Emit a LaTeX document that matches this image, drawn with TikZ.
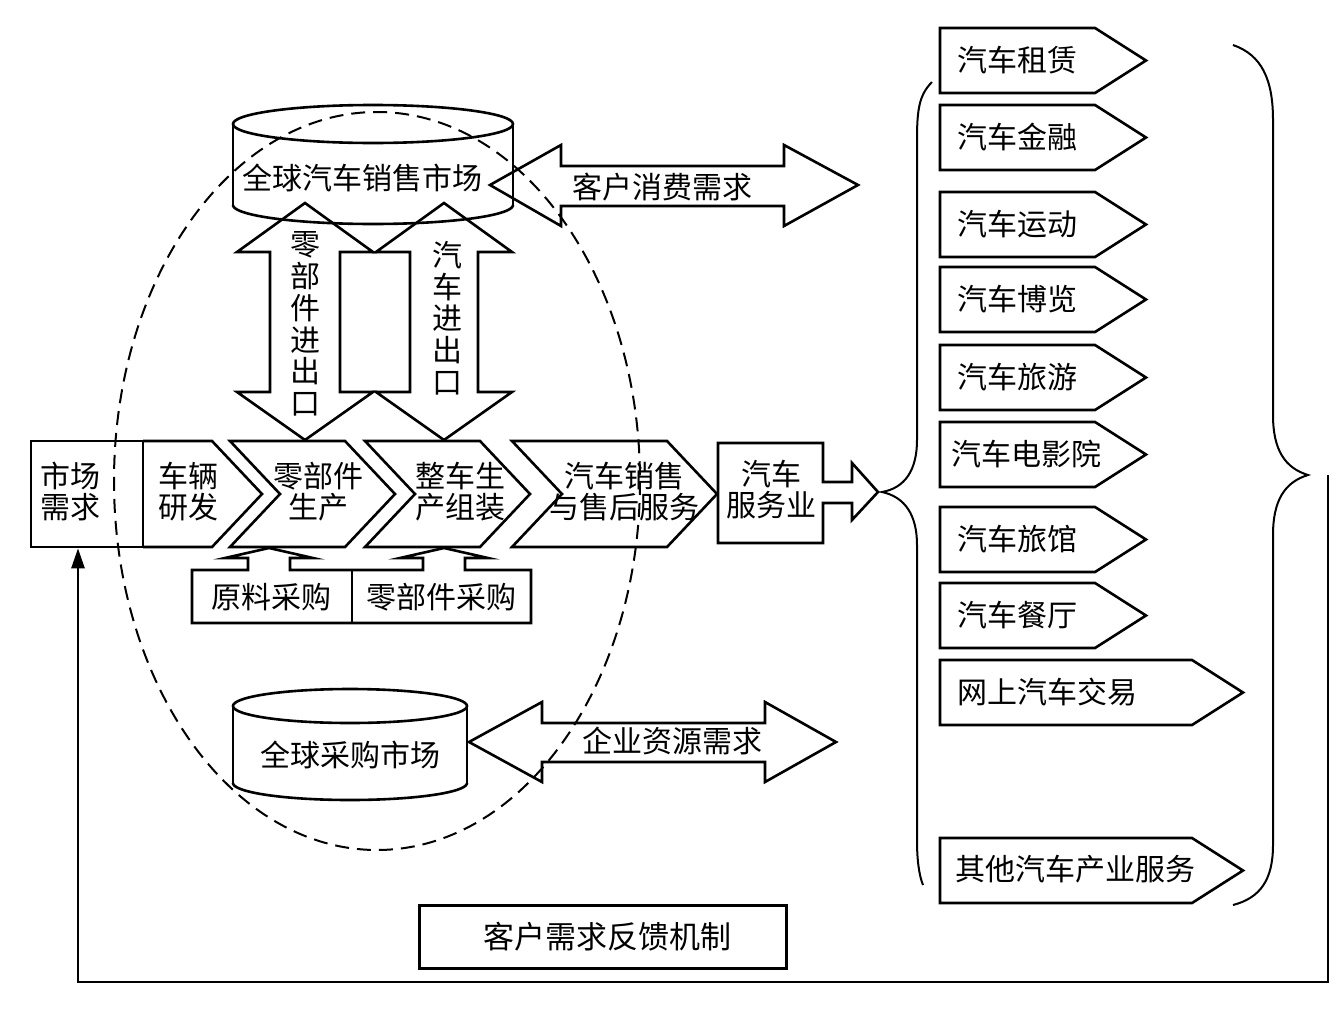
\documentclass[tikz,border=0pt]{standalone}
\usepackage{fontspec}
\setmainfont{Noto Sans CJK SC}
\usetikzlibrary{arrows.meta}
\begin{document}
\begin{tikzpicture}[x=1pt,y=-1pt,
  shp/.style={draw=black, line width=2.6pt, line join=miter},
  thin/.style={draw=black, line width=2pt},
  txt/.style={inner sep=0pt, font=\fontsize{30pt}{31pt}\selectfont, align=center},
  vtxt/.style={inner sep=0pt, font=\fontsize{30pt}{31.7pt}\selectfont, align=center},
  ltxt/.style={inner sep=0pt, font=\fontsize{30pt}{31pt}\selectfont, anchor=west}]
\useasboundingbox (0,0) rectangle (1341,1012);
\fill[white] (0,0) rectangle (1341,1012);

% dashed ellipse
\draw[line width=2pt, dash pattern=on 14pt off 8pt] (377,481) ellipse [x radius=263, y radius=369];

% top cylinder
\draw[shp] (373,124) ellipse [x radius=140, y radius=19];
\draw[shp] (233,124) -- (233,205);
\draw[shp] (513,124) -- (513,205);
\draw[shp] plot[domain=0:180, samples=60, smooth] ({373+140*cos(\x)}, {205+19*sin(\x)});
\node[txt] (gsm) at (362,178) {全球汽车销售市场};

% customer demand double arrow
\draw[shp] (490,185) -- (561,145) -- (561,166) -- (784,166) -- (784,145) -- (858,185) -- (784,226) -- (784,206) -- (561,206) -- (561,226) -- cycle;
\node[txt] (khxf) at (662,187) {客户消费需求};

% vertical double arrows
\draw[shp] (305,203) -- (373,252) -- (340,252) -- (340,392) -- (373,392) -- (305,440) -- (237,392) -- (270,392) -- (270,252) -- (237,252) -- cycle;
\draw[shp] (444,203) -- (512,252) -- (478,252) -- (478,392) -- (512,392) -- (444,440) -- (376,392) -- (410,392) -- (410,252) -- (376,252) -- cycle;
\node[vtxt] (ljjck) at (305,324) {零\\部\\件\\进\\出\\口};
\node[vtxt] (qcjck) at (447,318) {汽\\车\\进\\出\\口};

% main row
\node[shp, minimum width=112pt, minimum height=106pt, inner sep=0pt] (mkt) at (87,494) {};
\node[txt] (mkttxt) at (70,492) {市场\\需求};
\draw[shp] (143,441) -- (212,441) -- (262,494) -- (212,547) -- (143,547);
\node[txt] (yf) at (188,492) {车辆\\研发};
\draw[shp] (230,441) -- (345,441) -- (395,494) -- (345,547) -- (230,547) -- (280,494) -- cycle;
\node[txt] (ljsc) at (318,492) {零部件\\生产};
\draw[shp] (365,441) -- (480,441) -- (530,494) -- (480,547) -- (365,547) -- (415,494) -- cycle;
\node[txt] (zcsc) at (460,492) {整车生\\产组装};
\draw[shp] (512,441) -- (667,441) -- (717,494) -- (667,547) -- (512,547) -- (562,494) -- cycle;
\node[txt] (xsfw) at (624,492) {汽车销售\\与售后服务};
\draw[shp] (718,443) -- (823,443) -- (823,482) -- (852,482) -- (852,463) -- (878,492) -- (852,520) -- (852,503) -- (823,503) -- (823,543) -- (718,543) -- cycle;
\node[txt] (fwy) at (771,490) {汽车\\服务业};

% procurement boxes with up arrows
\draw[shp] (192,570) -- (248,570) -- (248,558) -- (225,558) -- (269,548) -- (313,558) -- (290,558) -- (290,570) -- (423,570) -- (423,558) -- (400,558) -- (444,548) -- (488,558) -- (465,558) -- (465,570) -- (531,570) -- (531,623) -- (192,623) -- cycle;
\draw[shp] (352,570) -- (352,623);
\node[txt] (ylcg) at (271,597) {原料采购};
\node[txt] (ljcg) at (441,597) {零部件采购};

% bottom cylinder
\draw[shp] (350,706) ellipse [x radius=117, y radius=17];
\draw[shp] (233,706) -- (233,783);
\draw[shp] (467,706) -- (467,783);
\draw[shp] plot[domain=0:180, samples=60, smooth] ({350+117*cos(\x)}, {783+17*sin(\x)});
\node[txt] (gscg) at (350,755) {全球采购市场};

% enterprise resource double arrow
\draw[shp] (469,742) -- (542,702) -- (542,723) -- (765,723) -- (765,702) -- (836,742) -- (765,782) -- (765,762) -- (542,762) -- (542,782) -- cycle;
\node[txt] (qyzy) at (672,741) {企业资源需求};

% right list
\foreach \t/\c in {28/1095, 105/1095, 192/1095, 267/1095, 345/1095, 422/1095, 507/1095, 583/1095, 660/1192, 838/1192}{
  \draw[shp] (940,\t) -- (\c,\t) -- ({\c+51},{\t+32.5}) -- (\c,{\t+65}) -- (940,{\t+65}) -- cycle;
}
\node[ltxt] (t1) at (957,60) {汽车租赁};
\node[ltxt] (t2) at (957,137) {汽车金融};
\node[ltxt] (t3) at (957,224) {汽车运动};
\node[ltxt] (t4) at (957,299) {汽车博览};
\node[ltxt] (t5) at (957,377) {汽车旅游};
\node[ltxt] (t6) at (951,454) {汽车电影院};
\node[ltxt] (t7) at (957,539) {汽车旅馆};
\node[ltxt] (t8) at (957,615) {汽车餐厅};
\node[ltxt] (t9) at (957,692) {网上汽车交易};
\node[ltxt] (t10) at (955,869) {其他汽车产业服务};

% braces
\draw[thin] (932,82) .. controls (919,95) and (917,110) .. (917,140) -- (917,440) .. controls (917,470) and (905,488) .. (882,492) .. controls (905,497) and (917,515) .. (917,545) -- (917,840) .. controls (917,860) and (919,875) .. (923,885);
\draw[thin] (1233,45) .. controls (1262,55) and (1273,80) .. (1273,120) -- (1273,415) .. controls (1273,450) and (1285,468) .. (1308,475) .. controls (1285,482) and (1273,500) .. (1273,535) -- (1273,845) .. controls (1273,880) and (1260,898) .. (1233,905);

% feedback
\node[shp, minimum width=367pt, minimum height=63pt, inner sep=0pt] (fk) at (603,937) {};
\node[inner sep=0pt, font=\fontsize{31pt}{32pt}\selectfont] (fktxt) at (607,937) {客户需求反馈机制};
\coordinate (fbstart) at (1328,475);
\coordinate (fbcorner) at (78,982);
\draw[line width=2.6pt, -{Triangle[length=20pt,width=13pt]}] (fbstart) -- (1328,982) -- (fbcorner) -- (fbcorner |- mkt.south);
\end{tikzpicture}
\end{document}
